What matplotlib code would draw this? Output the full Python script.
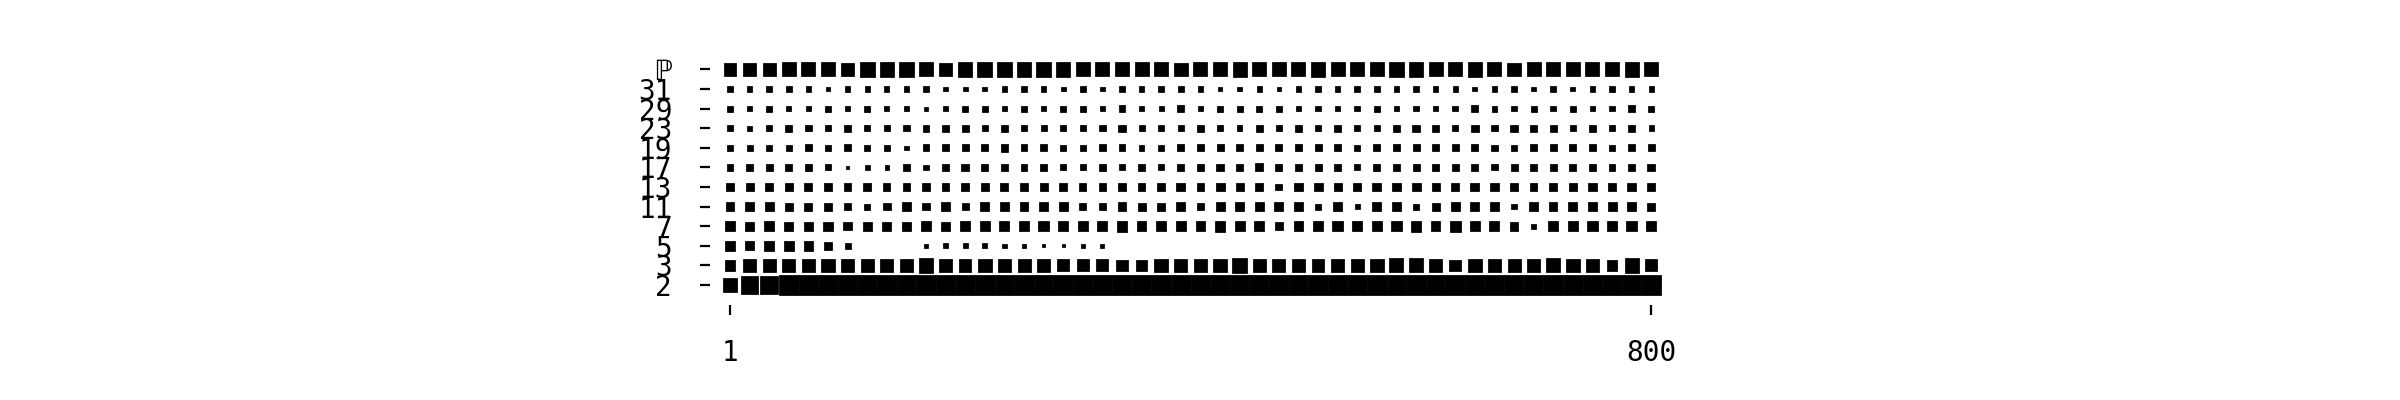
# -*- coding: utf-8 -*-
"""Diagrama tipo Hinton: peso de cada primo em 48 faixas de 1 a 800."""
import matplotlib
matplotlib.use("Agg")
import matplotlib.pyplot as plt
import numpy as np

plt.rcParams["font.family"] = ["DejaVu Sans Mono", "DejaVu Sans"]

row_labels = ["2", "3", "5", "7", "11", "13", "17", "19", "23", "29", "31", "ℙ"]
x_labels = ["1", "800"]

# pesos (% do máximo), 48 colunas por linha
w2 = [58, 80, 85] + [100] * 45
w3 = [30, 48, 46, 46, 44, 48, 44, 44, 46, 48, 53, 46,
      39, 48, 39, 44, 46, 37, 37, 37, 35, 35, 48, 46,
      39, 46, 56, 42, 46, 39, 39, 46, 42, 46, 51, 51,
      44, 35, 48, 39, 44, 42, 51, 48, 48, 30, 53, 37]
w5 = [26, 21, 24, 24, 24, 17, 10, 0, 0, 0, 4, 6,
      6, 6, 5, 4, 3, 2, 5, 4, 0, 0, 0, 0,
      0, 0, 0, 0, 0, 0, 0, 0, 0, 0, 0, 0,
      0, 0, 0, 0, 0, 0, 0, 0, 0, 0, 0, 0]
w7 = [26, 21, 24, 21, 21, 23, 18, 23, 21, 23, 26, 21,
      24, 28, 26, 28, 28, 28, 26, 26, 30, 24, 26, 26,
      24, 30, 26, 26, 17, 24, 28, 28, 28, 28, 28, 30,
      24, 30, 26, 26, 20, 7, 26, 24, 28, 24, 28, 28]
w11 = [18, 21, 20, 17, 17, 17, 13, 10, 15, 18, 15, 18,
       13, 20, 20, 18, 18, 20, 13, 13, 20, 17, 17, 20,
       15, 21, 21, 20, 20, 21, 10, 21, 6, 21, 18, 9,
       17, 20, 21, 21, 8, 21, 18, 21, 18, 21, 20, 17]
w13 = [17, 17, 15, 17, 17, 17, 13, 15, 14, 15, 17, 14,
       15, 18, 17, 18, 17, 15, 14, 15, 18, 15, 18, 20,
       15, 21, 17, 18, 12, 20, 21, 17, 17, 20, 18, 21,
       17, 18, 21, 18, 15, 15, 18, 18, 18, 17, 21, 17]
w17 = [12, 14, 13, 14, 14, 10, 2, 6, 5, 14, 8, 14,
       15, 12, 15, 12, 14, 10, 10, 13, 10, 12, 10, 13,
       13, 15, 13, 17, 13, 14, 13, 13, 10, 12, 14, 13,
       12, 14, 13, 10, 13, 13, 12, 12, 13, 12, 12, 15]
w19 = [10, 10, 9, 10, 13, 10, 13, 9, 10, 5, 12, 12,
       12, 12, 15, 12, 14, 10, 10, 13, 12, 8, 10, 13,
       13, 13, 13, 12, 13, 14, 13, 13, 10, 12, 14, 13,
       12, 13, 13, 10, 10, 12, 13, 12, 13, 10, 12, 13]
w23 = [10, 7, 9, 12, 10, 9, 12, 9, 10, 10, 12, 12,
       12, 10, 13, 9, 10, 10, 10, 10, 14, 10, 10, 8,
       14, 10, 8, 14, 10, 14, 8, 12, 10, 8, 12, 14,
       12, 10, 14, 10, 14, 14, 12, 8, 12, 8, 12, 8]
w29 = [10, 8, 9, 7, 8, 9, 7, 9, 7, 7, 4, 6,
       9, 10, 7, 10, 7, 10, 10, 6, 12, 7, 6, 12,
       7, 10, 9, 9, 10, 8, 8, 8, 8, 10, 7, 8,
       7, 8, 13, 9, 8, 10, 8, 10, 7, 8, 13, 9]
w31 = [10, 7, 10, 9, 8, 5, 7, 7, 7, 8, 10, 6,
       6, 6, 8, 8, 7, 6, 10, 6, 8, 8, 8, 8,
       7, 6, 5, 7, 5, 8, 10, 8, 8, 10, 7, 8,
       8, 7, 6, 7, 7, 6, 8, 6, 7, 8, 8, 7]
wP = [39, 46, 42, 51, 51, 51, 48, 56, 53, 53, 51, 48,
      53, 56, 53, 56, 56, 53, 51, 51, 51, 51, 51, 48,
      51, 51, 53, 51, 51, 51, 53, 51, 51, 51, 53, 53,
      51, 51, 53, 51, 48, 51, 51, 51, 51, 51, 53, 51]

rows = [w2, w3, w5, w7, w11, w13, w17, w19, w23, w29, w31, wP]
W = np.array(rows, dtype=float)
ncol = W.shape[1]
max_weight = W.max()

fig = plt.figure(figsize=(12, 2), dpi=200)
ax = fig.add_axes([0.296, 0.2385, 0.4002, 0.637])

for (y, x), w in np.ndenumerate(W):
    if w <= 0:
        continue
    size = np.sqrt(w / max_weight)
    ax.add_patch(plt.Rectangle((x - size / 2, y - size / 2), size, size,
                               facecolor="black", edgecolor="#0a0a0a", lw=0.3))

ax.set_xlim(-1, ncol)
ax.set_ylim(-1, len(rows))
ax.set_xticks([0, ncol - 1])
ax.set_xticklabels(x_labels)
ax.set_yticks(range(len(rows)))
ax.set_yticklabels(row_labels)
ax.tick_params(axis="x", length=3.5, width=0.8, pad=9, labelsize=10)
ax.tick_params(axis="y", length=3.5, width=0.8, pad=10.3, labelsize=10)
for s in ax.spines.values():
    s.set_visible(False)

fig.savefig("out.png", dpi=200)
